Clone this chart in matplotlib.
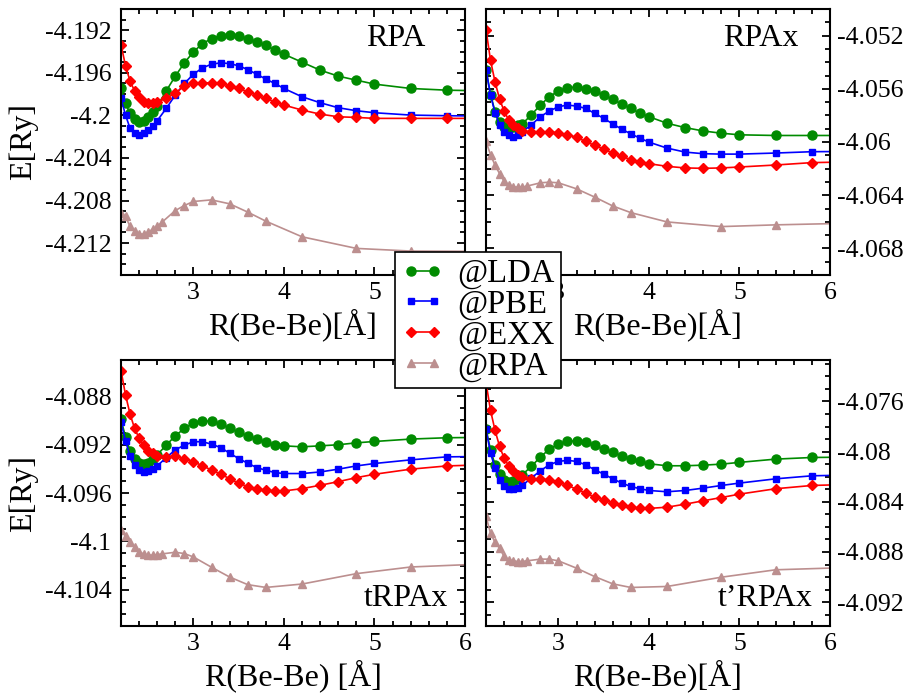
import matplotlib
matplotlib.use("Agg")
import matplotlib.pyplot as plt
from matplotlib.ticker import MultipleLocator, FixedLocator

plt.rcParams['font.family'] = ['Liberation Serif', 'DejaVu Serif']

# расстояния R(Be-Be), Å
x_main = [2.2, 2.25, 2.3, 2.35, 2.4, 2.45, 2.5, 2.55, 2.6, 2.7, 2.8, 2.9, 3.0, 3.1,
          3.2, 3.3, 3.4, 3.5, 3.6, 3.7, 3.8, 3.9, 4.0, 4.2, 4.4, 4.6, 4.8, 5.0, 5.4,
          5.8, 6.2]
x_rpa = [2.2, 2.25, 2.3, 2.35, 2.4, 2.45, 2.5, 2.55, 2.6, 2.65, 2.8, 2.9, 3.0, 3.2,
         3.4, 3.6, 3.8, 4.2, 4.8, 5.4, 6.2]

# панель RPA
rpa_lda = [-4.19747, -4.19888, -4.19978, -4.20038, -4.20066, -4.20050, -4.20013, -4.19966,
           -4.19913, -4.19769, -4.19631, -4.19506, -4.19403, -4.19325, -4.19278, -4.19253,
           -4.19244, -4.19256, -4.19278, -4.19309, -4.19341, -4.19388, -4.19425, -4.19500,
           -4.19575, -4.19631, -4.19669, -4.19706, -4.19747, -4.19763, -4.19769]
rpa_pbe = [-4.19841, -4.19997, -4.20122, -4.20169, -4.20184, -4.20169, -4.20138, -4.20100,
           -4.20050, -4.19934, -4.19809, -4.19700, -4.19613, -4.19553, -4.19519, -4.19506,
           -4.19513, -4.19534, -4.19569, -4.19613, -4.19659, -4.19700, -4.19747, -4.19825,
           -4.19881, -4.19928, -4.19956, -4.19975, -4.19997, -4.20003, -4.20006]
rpa_exx = [-4.19334, -4.19534, -4.19678, -4.19769, -4.19825, -4.19872, -4.19888, -4.19888,
           -4.19872, -4.19841, -4.19788, -4.19725, -4.19700, -4.19694, -4.19694, -4.19700,
           -4.19722, -4.19747, -4.19778, -4.19809, -4.19841, -4.19872, -4.19903, -4.19950,
           -4.19988, -4.20013, -4.20019, -4.20028, -4.20028, -4.20028, -4.20028]
rpa_rpa = [-4.20919, -4.20950, -4.21044, -4.21091, -4.21116, -4.21116, -4.21097, -4.21069,
           -4.21044, -4.21006, -4.20894, -4.20847, -4.20809, -4.20794, -4.20831, -4.20909,
           -4.20994, -4.21141, -4.21250, -4.21275, -4.21278]

# панель RPAx
rpax_lda = [-4.05456, -4.05643, -4.05772, -4.05847, -4.05884, -4.05892, -4.05884, -4.05872,
            -4.05864, -4.05797, -4.05722, -4.05660, -4.05616, -4.05593, -4.05586, -4.05598,
            -4.05616, -4.05648, -4.05680, -4.05715, -4.05747, -4.05785, -4.05810, -4.05859,
            -4.05892, -4.05917, -4.05934, -4.05946, -4.05951, -4.05951, -4.05951]
rpax_pbe = [-4.05456, -4.05648, -4.05780, -4.05872, -4.05922, -4.05946, -4.05959, -4.05946,
            -4.05922, -4.05872, -4.05810, -4.05767, -4.05735, -4.05722, -4.05730, -4.05747,
            -4.05785, -4.05822, -4.05864, -4.05904, -4.05939, -4.05971, -4.06001, -4.06046,
            -4.06076, -4.06088, -4.06091, -4.06091, -4.06083, -4.06073, -4.06071]
rpax_exx = [-4.05155, -4.05387, -4.05548, -4.05678, -4.05767, -4.05834, -4.05872, -4.05897,
            -4.05914, -4.05927, -4.05927, -4.05927, -4.05929, -4.05946, -4.05964, -4.05996,
            -4.06026, -4.06053, -4.06083, -4.06108, -4.06133, -4.06150, -4.06163, -4.06183,
            -4.06195, -4.06198, -4.06195, -4.06188, -4.06173, -4.06155, -4.06150]
rpax_rpa = [-4.05996, -4.06096, -4.06175, -4.06238, -4.06295, -4.06325, -4.06337, -4.06340,
            -4.06340, -4.06332, -4.06307, -4.06302, -4.06307, -4.06352, -4.06414, -4.06481,
            -4.06531, -4.06601, -4.06636, -4.06623, -4.06611]

# панель tRPAx
trpax_lda = [-4.08988, -4.09140, -4.09251, -4.09315, -4.09354, -4.09362, -4.09348, -4.09320,
             -4.09284, -4.09204, -4.09127, -4.09066, -4.09021, -4.09002, -4.09008, -4.09030,
             -4.09063, -4.09099, -4.09127, -4.09154, -4.09182, -4.09201, -4.09210, -4.09218,
             -4.09210, -4.09201, -4.09185, -4.09174, -4.09154, -4.09143, -4.09140]
trpax_pbe = [-4.09016, -4.09168, -4.09298, -4.09370, -4.09409, -4.09426, -4.09417, -4.09403,
             -4.09376, -4.09307, -4.09243, -4.09204, -4.09176, -4.09176, -4.09196, -4.09224,
             -4.09271, -4.09315, -4.09354, -4.09390, -4.09412, -4.09431, -4.09439, -4.09439,
             -4.09426, -4.09403, -4.09376, -4.09356, -4.09326, -4.09301, -4.09298]
trpax_exx = [-4.08587, -4.08789, -4.08947, -4.09066, -4.09146, -4.09204, -4.09251, -4.09273,
             -4.09293, -4.09301, -4.09298, -4.09315, -4.09340, -4.09376, -4.09409, -4.09445,
             -4.09481, -4.09520, -4.09547, -4.09564, -4.09578, -4.09583, -4.09583, -4.09564,
             -4.09536, -4.09506, -4.09473, -4.09445, -4.09403, -4.09376, -4.09367]
trpax_rpa = [-4.09907, -4.09957, -4.10007, -4.10046, -4.10087, -4.10104, -4.10115, -4.10115,
             -4.10109, -4.10104, -4.10090, -4.10101, -4.10129, -4.10214, -4.10295, -4.10358,
             -4.10381, -4.10353, -4.10267, -4.10212, -4.10187]

# панель t'RPAx
tprpax_lda = [-4.07821, -4.07985, -4.08105, -4.08177, -4.08225, -4.08243, -4.08238, -4.08219,
              -4.08185, -4.08118, -4.08044, -4.07980, -4.07940, -4.07919, -4.07914, -4.07927,
              -4.07951, -4.07980, -4.08007, -4.08033, -4.08057, -4.08078, -4.08097, -4.08113,
              -4.08113, -4.08108, -4.08100, -4.08086, -4.08060, -4.08047, -4.08044]
tprpax_pbe = [-4.07821, -4.08012, -4.08132, -4.08225, -4.08278, -4.08296, -4.08296, -4.08291,
              -4.08270, -4.08211, -4.08153, -4.08105, -4.08078, -4.08070, -4.08078, -4.08105,
              -4.08145, -4.08179, -4.08217, -4.08251, -4.08278, -4.08296, -4.08310, -4.08320,
              -4.08310, -4.08291, -4.08270, -4.08251, -4.08217, -4.08193, -4.08187]
tprpax_exx = [-4.07450, -4.07672, -4.07831, -4.07959, -4.08052, -4.08113, -4.08158, -4.08185,
              -4.08203, -4.08219, -4.08219, -4.08225, -4.08243, -4.08270, -4.08299, -4.08331,
              -4.08363, -4.08384, -4.08411, -4.08429, -4.08443, -4.08451, -4.08453, -4.08443,
              -4.08419, -4.08392, -4.08366, -4.08339, -4.08296, -4.08270, -4.08262]
tprpax_rpa = [-4.08517, -4.08650, -4.08724, -4.08770, -4.08836, -4.08863, -4.08871, -4.08876,
              -4.08876, -4.08871, -4.08857, -4.08857, -4.08871, -4.08929, -4.08996, -4.09054,
              -4.09083, -4.09075, -4.09001, -4.08942, -4.08924]

labels = ["@LDA", "@PBE", "@EXX", "@RPA"]
colors = ["#008b00", "#0000ff", "#ff0000", "#bc8f8f"]
markers = ["o", "s", "D", "^"]
msizes = [6.5, 5.0, 4.8, 6.0]

panels = [
    ("RPA", [rpa_lda, rpa_pbe, rpa_exx, rpa_rpa], (-4.215, -4.190), [-4.212, -4.208, -4.204, -4.2, -4.196, -4.192]),
    ("RPAx", [rpax_lda, rpax_pbe, rpax_exx, rpax_rpa], (-4.070, -4.050), [-4.068, -4.064, -4.06, -4.056, -4.052]),
    ("tRPAx", [trpax_lda, trpax_pbe, trpax_exx, trpax_rpa], (-4.107, -4.085), [-4.104, -4.1, -4.096, -4.092, -4.088]),
    ("t\u2019RPAx", [tprpax_lda, tprpax_pbe, tprpax_exx, tprpax_rpa], (-4.0939, -4.0727), [-4.092, -4.088, -4.084, -4.08, -4.076]),
]

W, H = 906, 695
fig = plt.figure(figsize=(W / 100, H / 100), dpi=100)

# положения осей в пикселях: left, top, right, bottom
boxes = [(121, 9, 465, 275), (486, 9, 830, 275), (121, 360, 465, 626), (486, 360, 830, 626)]
xlabels = ["R(Be-Be)[Å]", "R(Be-Be)[Å]", "R(Be-Be) [Å]", "R(Be-Be)[Å]"]
text_pos = [(0.884, 0.89), (0.907, 0.89), (0.952, 0.105), (0.950, 0.105)]


def fmt(v):
    s = "%.3f" % v
    return s.rstrip("0").rstrip(".")


handles = []
for i, (name, series, ylim, yticks) in enumerate(panels):
    l, t, r, b = boxes[i]
    ax = fig.add_axes([l / W, 1 - b / H, (r - l) / W, (b - t) / H])
    for k in range(4):
        xs = x_rpa if k == 3 else x_main
        ln, = ax.plot(xs, series[k], color=colors[k], marker=markers[k], ms=msizes[k],
                      lw=1.2, mec=colors[k], label=labels[k])
        if i == 0:
            handles.append(ln)
    ax.set_xlim(2.2, 6.0)
    ax.set_ylim(*ylim)
    ax.xaxis.set_major_locator(FixedLocator([3, 4, 5, 6]))
    ax.xaxis.set_minor_locator(MultipleLocator(0.2))
    ax.yaxis.set_major_locator(FixedLocator(yticks))
    ax.yaxis.set_minor_locator(MultipleLocator(0.001))
    ax.set_yticklabels([fmt(v) for v in yticks])
    ax.tick_params(which="both", direction="in", top=True, right=True, width=1.3)
    ax.tick_params(which="major", length=5.5, labelsize=18.5)
    ax.tick_params(which="minor", length=3.5)
    ax.tick_params(axis="x", pad=5)
    if i % 2 == 1:
        ax.tick_params(axis="y", labelleft=False, labelright=True, pad=5)
    else:
        ax.tick_params(axis="y", pad=7)
        ax.set_ylabel("E[Ry]", fontsize=23, labelpad=5)
    for sp in ax.spines.values():
        sp.set_linewidth(1.5)
    ax.set_xlabel(xlabels[i], fontsize=23, labelpad=3)
    tx, ty = text_pos[i]
    ax.text(tx, ty, name, transform=ax.transAxes, ha="right", va="center", fontsize=23)

leg = fig.legend(handles=handles, loc="center", bbox_to_anchor=(478 / W, 1 - 320 / H),
                 fontsize=23.5, numpoints=2, handlelength=1.3, handletextpad=0.4,
                 labelspacing=0.0, borderpad=0.2, borderaxespad=0, fancybox=False,
                 framealpha=1, edgecolor="black")
leg.get_frame().set_linewidth(1.2)

fig.savefig("out.png", dpi=100)
